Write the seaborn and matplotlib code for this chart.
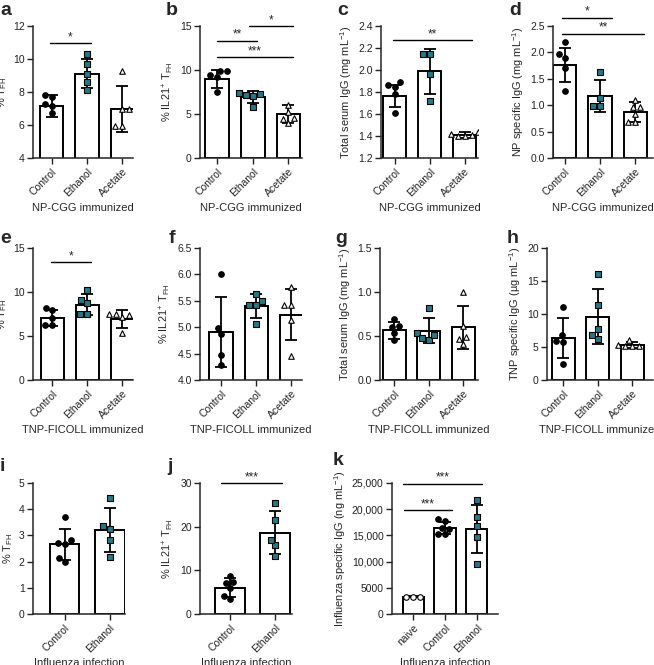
import warnings

import numpy as np
import pandas as pd
import seaborn as sns
import matplotlib
matplotlib.use("Agg")
import matplotlib.pyplot as plt

warnings.filterwarnings("ignore")

sns.set_style("ticks")
plt.rcParams["font.family"] = ["Liberation Sans", "DejaVu Sans"]
plt.rcParams["mathtext.default"] = "regular"

TEAL = "#237a87"
W, H = 654, 665

# group styles: marker, face colour
STYLE = {
    "naive": ("o", "white"),
    "Control": ("o", "black"),
    "Ethanol": ("s", TEAL),
    "Acetate": ("^", "white"),
}

cats3 = ["Control", "Ethanol", "Acetate"]
cats2 = ["Control", "Ethanol"]
cats_k = ["naive", "Control", "Ethanol"]

# ---- NP-CGG immunized ----
a_means = [7.15, 9.12, 6.97]
a_sd = [0.67, 0.85, 1.41]
a_ctrl = [7.67, 7.83, 7.25, 7.14, 6.70]
a_eth = [10.28, 9.70, 9.08, 8.60, 8.15]
a_ace = [9.29, 6.95, 6.98, 5.93, 5.93]

b_means = [8.96, 6.95, 4.97]
b_sd = [0.99, 0.70, 1.00]
b_ctrl = [9.87, 9.38, 9.83, 9.15, 7.52]
b_eth = [7.40, 7.20, 7.05, 7.25, 5.75]
b_ace = [6.05, 5.20, 4.50, 4.45, 4.00]

c_means = [1.76, 1.99, 1.41]
c_sd = [0.10, 0.205, 0.03]
c_ctrl = [1.89, 1.85, 1.86, 1.78, 1.61]
c_eth = [2.15, 2.15, 1.96, 1.72]
c_ace = [1.44, 1.42, 1.41, 1.40, 1.40]

d_means = [1.76, 1.18, 0.87]
d_sd = [0.33, 0.30, 0.19]
d_ctrl = [2.19, 1.97, 1.89, 1.71, 1.27]
d_eth = [1.63, 1.13, 0.99, 0.99]
d_ace = [1.10, 0.96, 0.97, 0.84, 0.69, 0.69]

# ---- TNP-FICOLL immunized ----
e_means = [7.06, 8.54, 6.95]
e_sd = [0.91, 1.18, 0.99]
e_ctrl = [8.2, 8.0, 7.1, 6.3, 6.2]
e_eth = [10.2, 8.8, 9.1, 7.5, 7.5]
e_ace = [7.45, 7.5, 7.4, 7.2, 5.3]

f_means = [4.91, 5.40, 5.24]
f_sd = [0.67, 0.22, 0.49]
f_ctrl = [6.00, 4.98, 4.87, 4.48, 4.28]
f_eth = [5.63, 5.42, 5.50, 5.42, 5.06]
f_ace = [5.76, 5.42, 5.42, 5.14, 4.46]

g_means = [0.565, 0.56, 0.60]
g_sd = [0.095, 0.145, 0.245]
g_ctrl = [0.69, 0.60, 0.61, 0.53, 0.45]
g_eth = [0.82, 0.53, 0.46, 0.51, 0.48]
g_ace = [1.00, 0.61, 0.49, 0.47, 0.41]

h_means = [6.4, 9.6, 5.35]
h_sd = [3.05, 4.15, 0.45]
h_ctrl = [11.1, 6.8, 5.9, 5.8, 2.5]
h_eth = [16.0, 11.4, 7.7, 6.2, 6.8]
h_ace = [6.1, 5.2, 5.3, 5.2, 5.2]

# ---- Influenza infection ----
i_means = [2.66, 3.20]
i_sd = [0.60, 0.83]
i_ctrl = [3.71, 2.69, 2.82, 2.72, 1.99, 2.12]
i_eth = [4.43, 3.26, 3.35, 2.84, 2.16]

j_means = [6.05, 18.6]
j_sd = [2.1, 4.9]
j_ctrl = [8.75, 7.15, 7.39, 5.86, 3.35, 4.10]
j_eth = [25.4, 21.5, 15.9, 17.05, 13.25]

k_means = [3300, 16500, 16200]
k_sd = [100, 1150, 4600]
k_naive = [3300, 3300, 3300]
k_ctrl = [17800, 18100, 16400, 16300, 15300, 15200]
k_eth = [21800, 18500, 16700, 14600, 9500]
k_yticklabels = ["0", "5000", "10,000", "15,000", "20,000", "25,000"]

# significance lines: (x1, x2, y, label)
a_sig = [(-0.04, 1.10, 10.95, "*")]
b_sig = [(0.0, 1.12, 13.33, "**"), (0.0, 2.12, 11.43, "***"), (0.88, 2.12, 15.0, "*")]
c_sig = [(-0.06, 2.22, 2.27, "**")]
d_sig = [(-0.07, 1.33, 2.66, "*"), (-0.07, 2.25, 2.35, "**")]
e_sig = [(-0.04, 1.10, 13.4, "*")]
j_sig = [(-0.2, 1.15, 30.0, "***")]
k_sig = [(-0.3, 2.15, 24900, "***"), (-0.28, 1.22, 19770, "***")]

fig = plt.figure(figsize=(W / 100, H / 100), dpi=100)


def make_ax(left, right, top, bottom):
    return fig.add_axes([left / W, 1 - bottom / H, (right - left) / W, (bottom - top) / H])


def panel(ax, cats, means, sds, points, ylim, yticks, ylabel, xlabel, xlim,
          sig=(), yticklabels=None):
    sns.barplot(x=cats, y=means, order=cats, color="white", edgecolor="black",
                linewidth=1.4, width=0.66, errorbar=None, ax=ax, zorder=1)
    ax.errorbar(range(len(cats)), means, yerr=sds, fmt="none", ecolor="black",
                elinewidth=1.3, capsize=4, capthick=1.3, zorder=3)
    for cat, vals in zip(cats, points):
        m, fc = STYLE[cat]
        sns.swarmplot(x=[cat] * len(vals), y=vals, order=cats, marker=m,
                      color=fc, edgecolor="black", linewidth=0.8, size=4,
                      ax=ax, zorder=4)
    ax.set_ylim(*ylim)
    ax.set_yticks(yticks)
    if yticklabels is not None:
        ax.set_yticklabels(yticklabels)
    ax.set_xlim(*xlim)
    ax.set_xticks(range(len(cats)))
    ax.set_xticklabels(cats, rotation=45, ha="right", rotation_mode="anchor")
    ax.set_ylabel(ylabel, fontsize=7.9, labelpad=3)
    ax.set_xlabel(xlabel, fontsize=8, labelpad=3)
    ax.tick_params(length=4, width=1, labelsize=7.5, pad=2, colors="#222222")
    sns.despine(ax=ax)
    for s in ["left", "bottom"]:
        ax.spines[s].set_linewidth(1.1)
    for x1, x2, y, lab in sig:
        ax.plot([x1, x2], [y, y], color="black", lw=1, clip_on=False)
        ax.text((x1 + x2) / 2, y, lab, ha="center", va="bottom", fontsize=8.5)


TFH = r"% T$_{FH}$"
IL21 = r"% IL21$^{+}$ T$_{FH}$"
NP = "NP-CGG immunized"
TNP = "TNP-FICOLL immunized"
FLU = "Influenza infection"

ax = make_ax(33, 133, 26, 158)
panel(ax, cats3, a_means, a_sd, [a_ctrl, a_eth, a_ace], (4, 12), [4, 6, 8, 10, 12],
      TFH, NP, (-0.53, 2.3), a_sig)
ax = make_ax(200, 302, 26, 158)
panel(ax, cats3, b_means, b_sd, [b_ctrl, b_eth, b_ace], (0, 15), [0, 5, 10, 15],
      IL21, NP, (-0.48, 2.38), b_sig)
ax = make_ax(381, 478, 26, 158)
panel(ax, cats3, c_means, c_sd, [c_ctrl, c_eth, c_ace], (1.2, 2.4),
      [1.2, 1.4, 1.6, 1.8, 2.0, 2.2, 2.4], r"Total serum IgG (mg mL$^{-1}$)", NP,
      (-0.4, 2.38), c_sig)
ax = make_ax(553, 653, 26, 158)
panel(ax, cats3, d_means, d_sd, [d_ctrl, d_eth, d_ace], (0, 2.5),
      [0, 0.5, 1.0, 1.5, 2.0, 2.5], r"NP specific IgG (mg mL$^{-1}$)", NP,
      (-0.33, 2.5), d_sig, ["0.0", "0.5", "1.0", "1.5", "2.0", "2.5"])

ax = make_ax(33, 133, 248, 380)
panel(ax, cats3, e_means, e_sd, [e_ctrl, e_eth, e_ace], (0, 15), [0, 5, 10, 15],
      TFH, TNP, (-0.55, 2.3), e_sig)
ax = make_ax(200, 302, 248, 380)
panel(ax, cats3, f_means, f_sd, [f_ctrl, f_eth, f_ace], (4.0, 6.5),
      [4.0, 4.5, 5.0, 5.5, 6.0, 6.5], IL21, TNP, (-0.6, 2.3))
ax = make_ax(380, 478, 248, 380)
panel(ax, cats3, g_means, g_sd, [g_ctrl, g_eth, g_ace], (0, 1.5),
      [0, 0.5, 1.0, 1.5], r"Total serum IgG (mg mL$^{-1}$)", TNP, (-0.42, 2.43),
      yticklabels=["0.0", "0.5", "1.0", "1.5"])
ax = make_ax(547, 653, 248, 380)
panel(ax, cats3, h_means, h_sd, [h_ctrl, h_eth, h_ace], (0, 20),
      [0, 5, 10, 15, 20], r"TNP specific IgG (µg mL$^{-1}$)", TNP, (-0.47, 2.6))

ax = make_ax(33, 125, 483, 614)
panel(ax, cats2, i_means, i_sd, [i_ctrl, i_eth], (0, 5), [0, 1, 2, 3, 4, 5],
      TFH, FLU, (-0.7, 1.34))
ax = make_ax(200, 292, 483, 614)
panel(ax, cats2, j_means, j_sd, [j_ctrl, j_eth], (0, 30), [0, 10, 20, 30],
      IL21, FLU, (-0.67, 1.37), j_sig)
ax = make_ax(392, 498, 483, 614)
panel(ax, cats_k, k_means, k_sd, [k_naive, k_ctrl, k_eth], (0, 25000),
      [0, 5000, 10000, 15000, 20000, 25000],
      r"Influenza specific IgG (ng mL$^{-1}$)", FLU, (-0.66, 2.66), k_sig,
      k_yticklabels)

# panel letters (pixel positions of baseline)
letters = [("a", 0, 15), ("b", 166, 15), ("c", 337, 15), ("d", 509, 15),
           ("e", 0, 243), ("f", 169, 243), ("g", 335, 243), ("h", 507, 243),
           ("i", 0, 471), ("j", 167, 471), ("k", 333, 465)]
for lab, x, y in letters:
    fig.text(x / W, 1 - y / H, lab, fontsize=14, fontweight="bold",
             ha="left", va="baseline")

fig.savefig("out.png", dpi=100)
